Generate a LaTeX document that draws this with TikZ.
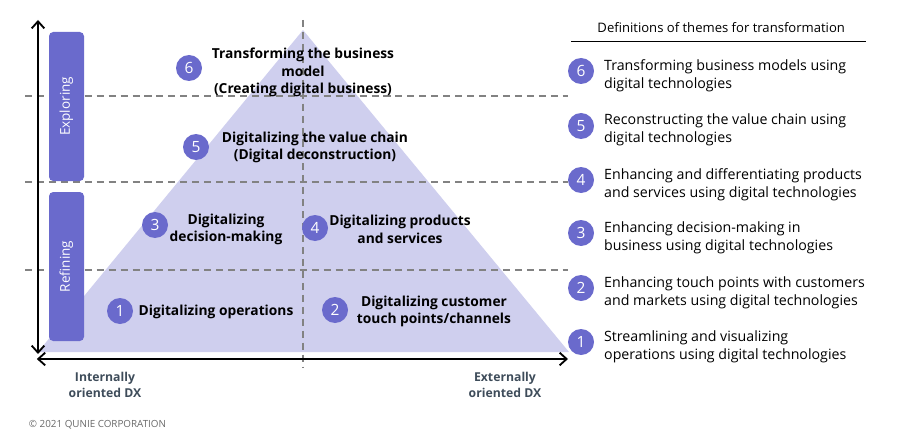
\documentclass[tikz,border=0pt]{standalone}
\usepackage{fontspec}
\setmainfont{Open Sans}
\usetikzlibrary{arrows.meta}
\definecolor{purp}{RGB}{106,106,204}
\definecolor{lav}{RGB}{207,207,238}
\definecolor{dashgray}{RGB}{130,130,130}
\definecolor{slate}{RGB}{62,76,90}
\begin{document}
\begin{tikzpicture}[
  num/.style={circle,fill=purp,text=white,minimum size=0.65cm,inner sep=0pt,font=\fontsize{11}{12}\selectfont},
  theme/.style={align=center,font=\fontsize{9.8}{12.4}\selectfont\bfseries},
  defn/.style={anchor=west,align=left,font=\fontsize{10.1}{12.8}\selectfont},
  stage/.style={fill=purp,rounded corners=3pt},
  guide/.style={dashgray,dash pattern=on 5pt off 3.5pt,line width=0.9pt},
  axis/.style={line width=1.3pt,{Straight Barb[length=5pt,width=9pt]}-{Straight Barb[length=5pt,width=9pt]}}
]
\useasboundingbox (0,0) rectangle (22.5,11.05);
%\draw[step=0.5cm,gray,very thin] (0,0) grid (22.5,11); %background grid

\fill[lav] (0.95,2.25)--(7.575,10.3)--(14.225,2.25)--cycle;
\draw[guide] (0.625,8.65) -- (14.2,8.65);
\draw[guide] (0.625,6.5) -- (14.2,6.5);
\draw[guide] (0.625,4.3) -- (14.2,4.3);
\draw[guide] (7.575,10.55) -- (7.575,1.875);

\coordinate (top) at (0.95,10.55);
\coordinate (bot) at (0.95,2.2);
\coordinate (left) at (0.92,2.075);
\coordinate (right) at (14.2,2.075);
\draw[axis] (bot) -- (top);
\draw[axis] (left) -- (right);

\fill[stage] (1.225,6.525) rectangle (2.1,10.25);
\fill[stage] (1.225,2.525) rectangle (2.1,6.25);
\node[rotate=90,text=white,font=\fontsize{9.6}{11}\selectfont] (explore) at (1.66,8.39) {Exploring};
\node[rotate=90,text=white,font=\fontsize{9.6}{11}\selectfont] (refine) at (1.66,4.39) {Refining};

% themes in the pyramid
\node[num] (c6) at (4.725,9.35) {6};
\node[num] (c5) at (4.9,7.375) {5};
\node[num] (c3) at (3.875,5.425) {3};
\node[num] (c4) at (7.875,5.35) {4};
\node[num] (c1) at (3.0,3.275) {1};
\node[num] (c2) at (8.375,3.3) {2};
\node[theme] (t6) at (7.575,9.24) {Transforming the business\\model\\(Creating digital business)};
\node[theme] (t5) at (7.875,7.37) {Digitalizing the value chain\\(Digital deconstruction)};
\node[theme] (t3) at (5.65,5.32) {Digitalizing\\decision-making};
\node[theme] (t4) at (10.0,5.32) {Digitalizing products\\and services};
\node[theme] (t1) at (5.4,3.26) {Digitalizing operations};
\node[theme] (t2) at (10.85,3.27) {Digitalizing customer\\touch points/channels};

\node[align=center,text=slate,font=\fontsize{8.7}{11}\selectfont\bfseries] (inner) at (2.625,1.425) {Internally\\oriented DX};
\node[align=center,text=slate,font=\fontsize{8.7}{11}\selectfont\bfseries] (outer) at (12.625,1.425) {Externally\\oriented DX};
\node[anchor=west,text=dashgray!80!black,font=\fontsize{7}{9}\selectfont] (copy) at (0.6,0.425) {© 2021 QUNIE CORPORATION};

% definitions column
\node[font=\fontsize{9.3}{11}\selectfont] (head) at (18.03,10.35) {Definitions of themes for transformation};
\draw[line width=0.6pt] (14.275,10.025) -- (21.65,10.025);
\node[num] (d6) at (14.525,9.275) {6};
\node[num] (d5) at (14.525,7.9) {5};
\node[num] (d4) at (14.525,6.55) {4};
\node[num] (d3) at (14.525,5.225) {3};
\node[num] (d2) at (14.525,3.85) {2};
\node[num] (d1) at (14.525,2.5) {1};
\node[defn] (e6) at (14.98,9.16) {Transforming business models using\\digital technologies};
\node[defn] (e5) at (14.98,7.81) {Reconstructing the value chain using\\digital technologies};
\node[defn] (e4) at (14.98,6.44) {Enhancing and differentiating products\\and services using digital technologies};
\node[defn] (e3) at (14.98,5.1) {Enhancing decision-making in\\business using digital technologies};
\node[defn] (e2) at (14.98,3.74) {Enhancing touch points with customers\\and markets using digital technologies};
\node[defn] (e1) at (14.98,2.39) {Streamlining and visualizing\\operations using digital technologies};
\end{tikzpicture}
\end{document}
